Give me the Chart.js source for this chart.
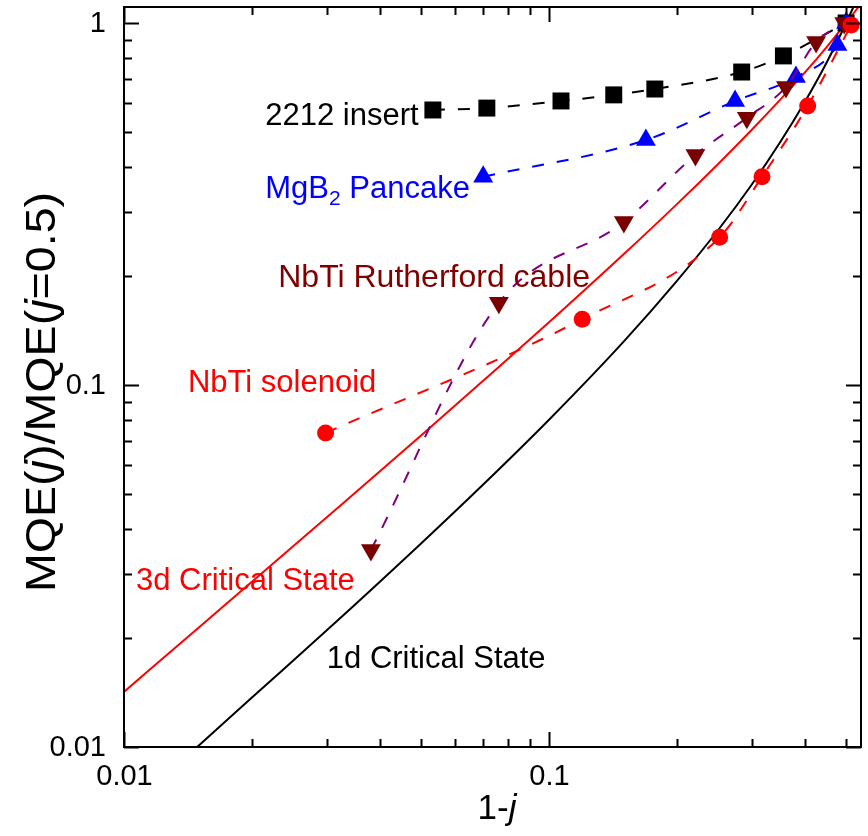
<!DOCTYPE html>
<html>
<head>
<meta charset="utf-8">
<script src="https://cdn.jsdelivr.net/npm/chart.js@4.4.1/dist/chart.umd.min.js"></script>
<style>
  html, body { margin: 0; padding: 0; background: #fff; }
</style>
</head>
<body>
<canvas id="myChart-mqe" width="868" height="836"></canvas>
<script>
// NbTi solenoid (red circles)
const solenoidX = [0.0298, 0.1197, 0.252, 0.317, 0.406, 0.514];
const solenoidY = [0.0737, 0.152, 0.256, 0.376, 0.590, 0.987];

// NbTi Rutherford cable (dark red down triangles)
const cableX = [0.0381, 0.0762, 0.150, 0.221, 0.292, 0.361, 0.425, 0.495];
const cableY = [0.035, 0.1686, 0.282, 0.432, 0.547, 0.666, 0.886, 1.0];

// MgB2 pancake (blue triangles)
const pancakeX = [0.070, 0.169, 0.274, 0.381, 0.477, 0.5];
const pancakeY = [0.376, 0.475, 0.609, 0.709, 0.869, 1.0];

// 2212 insert (black squares)
const insertX = [0.0533, 0.0714, 0.1067, 0.142, 0.1774, 0.284, 0.356, 0.5];
const insertY = [0.575, 0.582, 0.609, 0.633, 0.657, 0.732, 0.811, 1.0];

// critical state curves
const curveX = [0.01, 0.015, 0.02, 0.03, 0.05, 0.07, 0.1, 0.15, 0.2, 0.25, 0.3, 0.35, 0.4, 0.45, 0.5, 0.53, 0.55];
const state3dY = [0.0142, 0.0214, 0.0286, 0.0431, 0.0725, 0.1027, 0.149, 0.230, 0.316, 0.408, 0.507, 0.614, 0.730, 0.858, 1.0, 1.093, 1.16];
const curve1dX = [0.014, 0.015, 0.02, 0.03, 0.05, 0.07, 0.1, 0.15, 0.2, 0.25, 0.3, 0.35, 0.4, 0.45, 0.5, 0.52, 0.54];
const state1dY = [0.0094, 0.0101, 0.0137, 0.0210, 0.0365, 0.0531, 0.0802, 0.132, 0.194, 0.268, 0.358, 0.469, 0.606, 0.778, 1.0, 1.107, 1.226];

const xMin = 0.01, xMax = 0.542;
const yMin = 0.01, yMax = 1.107;

const FONT = "'Liberation Sans', Arial, sans-serif";

const toPoints = (xs, ys) => xs.map((x, i) => ({x: x, y: ys[i]}));

// text labels placed in data coordinates
const notes = [
    {text: '2212 insert', x: 0.0215, y: 0.553, color: '#000000', align: 'left', size: 31},
    {text: 'NbTi Rutherford cable', x: 0.1249, y: 0.1975, color: '#800000', align: 'right', size: 32},
    {text: 'NbTi solenoid', x: 0.01414, y: 0.1013, color: '#ff0000', align: 'left', size: 31},
    {text: '3d Critical State', x: 0.01067, y: 0.0286, color: '#ff0000', align: 'left', size: 31},
    {text: '1d Critical State', x: 0.0300, y: 0.0175, color: '#000000', align: 'left', size: 31}
];

const isNice = (v) => {
    const p = Math.pow(10, Math.floor(Math.log10(v) + 1e-9));
    const m = v / p;
    return Math.abs(m - Math.round(m)) < 1e-6 ? Math.round(m) : 0;
};

const framePlugin = {
    id: 'frame',
    afterDraw(chart) {
        const {ctx, chartArea: a, scales: {x, y}} = chart;
        ctx.save();
        ctx.strokeStyle = '#000';
        ctx.lineWidth = 2;
        ctx.strokeRect(a.left, a.top, a.right - a.left, a.bottom - a.top);

        // inward ticks on all four sides + decade labels
        ctx.fillStyle = '#000';
        ctx.font = `29px ${FONT}`;
        ctx.beginPath();
        ctx.textAlign = 'center';
        ctx.textBaseline = 'middle';
        x.ticks.forEach(t => {
            const m = isNice(t.value);
            if (!m || t.value < xMin || t.value > xMax) return;
            const len = m === 1 ? 15 : 8;
            const px = Math.round(x.getPixelForValue(t.value)) + 0.5;
            ctx.moveTo(px, a.bottom); ctx.lineTo(px, a.bottom - len);
            ctx.moveTo(px, a.top); ctx.lineTo(px, a.top + len);
            if (m === 1) ctx.fillText(String(t.value), px, a.bottom + 30);
        });
        ctx.textAlign = 'right';
        y.ticks.forEach(t => {
            const m = isNice(t.value);
            if (!m || t.value < yMin || t.value > yMax) return;
            const len = m === 1 ? 15 : 8;
            const py = Math.round(y.getPixelForValue(t.value)) + 0.5;
            ctx.moveTo(a.left, py); ctx.lineTo(a.left + len, py);
            ctx.moveTo(a.right, py); ctx.lineTo(a.right - len, py);
            if (m === 1) ctx.fillText(String(t.value), a.left - 18, py);
        });
        ctx.stroke();

        // annotations
        notes.forEach(n => {
            ctx.font = `${n.size}px ${FONT}`;
            ctx.textAlign = n.align;
            ctx.fillStyle = n.color;
            ctx.fillText(n.text, x.getPixelForValue(n.x), y.getPixelForValue(n.y));
        });
        ctx.textAlign = 'left';

        // MgB2 Pancake with subscript
        let tx = x.getPixelForValue(0.0215);
        const ty = y.getPixelForValue(0.346);
        ctx.fillStyle = '#0000ff';
        ctx.font = `31px ${FONT}`;
        ctx.fillText('MgB', tx, ty);
        tx += ctx.measureText('MgB').width;
        ctx.font = `21px ${FONT}`;
        ctx.fillText('2', tx, ty + 9);
        tx += ctx.measureText('2').width;
        ctx.font = `31px ${FONT}`;
        ctx.fillText(' Pancake', tx, ty);

        // axis titles with italic j
        const drawParts = (parts, size) => {
            let w = 0;
            parts.forEach(p => {
                ctx.font = `${p[1] ? 'italic ' : ''}${size}px ${FONT}`;
                w += ctx.measureText(p[0]).width;
            });
            let cx = -w / 2;
            parts.forEach(p => {
                ctx.font = `${p[1] ? 'italic ' : ''}${size}px ${FONT}`;
                ctx.fillText(p[0], cx, 0);
                cx += ctx.measureText(p[0]).width;
            });
        };
        ctx.fillStyle = '#000';
        ctx.textBaseline = 'alphabetic';

        ctx.save();
        ctx.translate(55, 392);
        ctx.rotate(-Math.PI / 2);
        ctx.scale(1.11, 1);
        drawParts([['MQE(', false], ['j', true], [')/MQE(', false], ['j', true], ['=0.5)', false]], 42);
        ctx.restore();

        ctx.save();
        ctx.translate(497, 819);
        drawParts([['1-', false], ['j', true]], 35);
        ctx.restore();

        ctx.restore();
    }
};

const config = {
    type: 'scatter',
    data: {
        datasets: [
            {
                label: 'NbTi solenoid',
                data: toPoints(solenoidX, solenoidY),
                showLine: true,
                borderColor: '#ff0000',
                borderWidth: 2,
                borderDash: [12, 13],
                cubicInterpolationMode: 'monotone',
                pointStyle: 'circle',
                pointRadius: 8.5,
                pointBackgroundColor: '#ff0000',
                pointBorderColor: '#ff0000',
                pointBorderWidth: 0
            },
            {
                label: 'NbTi Rutherford cable',
                data: toPoints(cableX, cableY),
                showLine: true,
                borderColor: '#800080',
                borderWidth: 2,
                borderDash: [12, 13],
                cubicInterpolationMode: 'monotone',
                pointStyle: 'triangle',
                rotation: 180,
                pointRadius: 11.5,
                pointBackgroundColor: '#7a0000',
                pointBorderColor: '#7a0000',
                pointBorderWidth: 0
            },
            {
                label: 'MgB2 Pancake',
                data: toPoints(pancakeX, pancakeY),
                showLine: true,
                borderColor: '#0000ff',
                borderWidth: 2,
                borderDash: [12, 13],
                cubicInterpolationMode: 'monotone',
                pointStyle: 'triangle',
                pointRadius: 11.5,
                pointBackgroundColor: '#0000ff',
                pointBorderColor: '#0000ff',
                pointBorderWidth: 0
            },
            {
                label: '2212 insert',
                data: toPoints(insertX, insertY),
                showLine: true,
                borderColor: '#000000',
                borderWidth: 2,
                borderDash: [12, 13],
                cubicInterpolationMode: 'monotone',
                pointStyle: 'rect',
                pointRadius: 12,
                pointBackgroundColor: '#000000',
                pointBorderColor: '#000000',
                pointBorderWidth: 0
            },
            {
                label: '3d Critical State',
                data: toPoints(curveX, state3dY),
                showLine: true,
                borderColor: '#ff0000',
                borderWidth: 2,
                cubicInterpolationMode: 'monotone',
                pointRadius: 0
            },
            {
                label: '1d Critical State',
                data: toPoints(curve1dX, state1dY),
                showLine: true,
                borderColor: '#000000',
                borderWidth: 2,
                cubicInterpolationMode: 'monotone',
                pointRadius: 0
            }
        ]
    },
    options: {
        responsive: false,
        animation: false,
        layout: {autoPadding: false, padding: {top: 7, right: 7, left: 0, bottom: 0}},
        plugins: {
            legend: {display: false},
            tooltip: {enabled: false}
        },
        scales: {
            x: {
                type: 'logarithmic',
                min: xMin,
                max: xMax,
                grid: {display: false, drawTicks: false},
                border: {display: false},
                ticks: {display: false, autoSkip: false, padding: 0},
                afterFit: (scale) => { scale.height = 89; }
            },
            y: {
                type: 'logarithmic',
                min: yMin,
                max: yMax,
                grid: {display: false, drawTicks: false},
                border: {display: false},
                ticks: {display: false, autoSkip: false, padding: 0},
                afterFit: (scale) => { scale.width = 124; }
            }
        }
    },
    plugins: [framePlugin]
};

document.addEventListener('DOMContentLoaded', () => {
    const ctx = document.getElementById('myChart-mqe').getContext('2d');
    new Chart(ctx, config);
});
</script>
</body>
</html>
